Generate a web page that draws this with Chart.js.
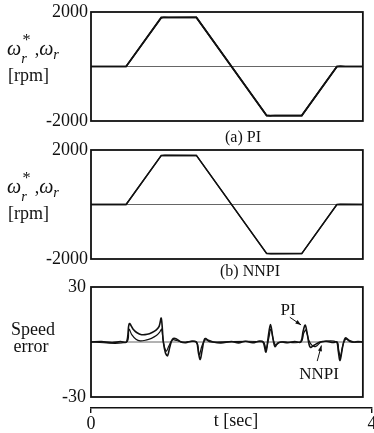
<!DOCTYPE html>
<html>
<head>
<meta charset="utf-8">
<script src="https://cdn.jsdelivr.net/npm/chart.js@4.4.1/dist/chart.umd.min.js"></script>
<style>
  body { margin: 0; background: #fff; }
  #wrap { position: relative; width: 374px; height: 433px; overflow: hidden; font-family: "Liberation Serif", "DejaVu Serif", serif; color: #111; }
  #wrap canvas { position: absolute; left: 0; top: 0; }
  .lbl { position: absolute; font-size: 18px; line-height: 1; white-space: nowrap; transform: translate(-50%, -50%); }
  .ylab { position: absolute; font-size: 18px; line-height: 1; white-space: nowrap; }
  .om { font-size: 20px; font-style: italic; }
  .ss { position: relative; display: inline-block; width: 0.5em; height: 0; }
  .ss .sp { position: absolute; left: 0.08em; bottom: 0.45em; font-size: 0.9em; }
  .ss .sb { position: absolute; left: 0; top: -0.3em; font-size: 0.8em; font-style: italic; }
  .sb2 { position: relative; top: 0.3em; font-size: 0.8em; font-style: italic; }
</style>
</head>
<body>
<div id="wrap">
  <canvas id="speedPI" width="374" height="433"></canvas>
  <canvas id="speedNN" width="374" height="433"></canvas>
  <canvas id="errChart" width="374" height="433"></canvas>
  <canvas id="timeAxis" width="374" height="433"></canvas>

  <div class="ylab" style="left:7px;top:38px"><span class="om">ω</span><span class="ss"><span class="sp">*</span><span class="sb">r</span></span> ,<span class="om">ω</span><span class="sb2">r</span></div>
  <div class="ylab" style="left:8px;top:66px">[rpm]</div>
  <div class="lbl" style="left:243px;top:137px;font-size:16px">(a) PI</div>

  <div class="ylab" style="left:7px;top:176px"><span class="om">ω</span><span class="ss"><span class="sp">*</span><span class="sb">r</span></span> ,<span class="om">ω</span><span class="sb2">r</span></div>
  <div class="ylab" style="left:8px;top:204px">[rpm]</div>
  <div class="lbl" style="left:250px;top:271px;font-size:16px">(b) NNPI</div>

  <div class="lbl" style="left:33px;top:329px">Speed</div>
  <div class="lbl" style="left:31px;top:346px">error</div>
  <div class="lbl" style="left:288px;top:309px;font-size:17px">PI</div>
  <div class="lbl" style="left:319px;top:373px;font-size:17px">NNPI</div>
  <div class="lbl" style="left:236px;top:420px">t [sec]</div>
</div>

<script>
// time base of all panels [sec]
const timeMax = 4;
const timeEnd = 3.87;

// speed command (trapezoid profile) [rpm]
const timeRef = [0, 0.5, 1.0, 1.5, 2.5, 3.0, 3.5, 3.87];
const speedRef = [0, 0, 1800, 1800, -1800, -1800, 0, 0];

// measured speed, PI controller [rpm]
const timePI = [0, 0.5, 1.0, 1.04, 1.1, 1.5, 2.5, 2.55, 2.62, 3.0, 3.5, 3.55, 3.62, 3.87];
const speedPI = [0, 0, 1787, 1807, 1799, 1800, -1795, -1809, -1798, -1800, -5, 10, 0, 0];

// measured speed, NNPI controller [rpm]
const timeNN = [0, 0.5, 1.0, 1.05, 1.5, 2.5, 2.56, 3.0, 3.5, 3.55, 3.87];
const speedNN = [0, 0, 1793, 1805, 1800, -1796, -1807, -1800, -4, 8, 0];

// speed error, PI [rpm]
const errTimePI = [0, 0.15, 0.3, 0.42, 0.505, 0.545, 0.6, 0.65, 0.72, 0.8, 0.87, 0.93, 0.97, 1.0, 1.03, 1.06, 1.09, 1.12, 1.16,
  1.21, 1.28, 1.35, 1.42, 1.5, 1.53, 1.555, 1.58, 1.62, 1.67, 1.74, 1.85, 2.0, 2.1, 2.2, 2.3, 2.4, 2.45, 2.49, 2.52, 2.555,
  2.59, 2.62, 2.66, 2.72, 2.8, 2.9, 2.985, 3.02, 3.05, 3.08, 3.12, 3.18, 3.26, 3.35, 3.45, 3.5, 3.52, 3.545, 3.58, 3.62,
  3.67, 3.74, 3.8, 3.87];
const errPI = [0, 0.2, -0.3, 0.2, 0, 10, 7, 5.2, 4.0, 4.2, 5.2, 6.6, 8.5, 13, 0, -6, -7.5, -3, 1.5,
  1.8, 0, -0.4, 0.3, 0, -6, -9.5, -5, 1.8, 1.0, 0, -0.5, 0.3, -0.5, 0.4, -0.4, 0.5, 0, -5.5, 2, 9.5,
  2, -2.5, -0.5, 0, -0.4, 0.3, 0, 6, 9.2, 4, -2.8, -1.6, 0, 0.4, -0.3, 0, -5, -10, -3, 2.2,
  1, 0, 0.3, 0];

// speed error, NNPI [rpm]
const errTimeNN = [0, 0.505, 0.54, 0.58, 0.64, 0.7, 0.78, 0.86, 0.93, 0.98, 1.005, 1.03, 1.07, 1.11, 1.16, 1.22, 1.3,
  1.5, 1.54, 1.58, 1.63, 1.7, 2.45, 2.49, 2.53, 2.56, 2.6, 2.63, 2.7, 2.985, 3.03, 3.06, 3.1, 3.15, 3.2, 3.28,
  3.5, 3.525, 3.55, 3.59, 3.63, 3.7, 3.87];
const errNN = [0, 0, 7, 4, 1.5, 0.6, 1.0, 2.0, 3.5, 5.5, 7, 0, -5, -2, 1.2, 0.8, 0,
  0, -7, -2, 1.2, 0, 0, -4, 2, 7, 0.5, -1.5, 0, 0, 5, 6.5, 1, -2, -2.4, 0,
  0, -4, -8, -1, 1.5, 0, 0];

// annotation arrows, in data units [t, error]
const arrowPI = [[2.83, 13.5], [2.99, 9.3]];
const arrowNN = [[3.22, -10.4], [3.28, -1.9]];

const ink = '#111';
const serif = 'Liberation Serif';

function toPoints(ts, vs) {
  return ts.map((t, i) => ({ x: t, y: vs[i] }));
}

// frame of each panel and its zero line
const panelFrame = {
  id: 'panelFrame',
  beforeDatasetsDraw(chart) {
    const { ctx, scales: { x, y } } = chart;
    const yz = y.getPixelForValue(0);
    ctx.save();
    ctx.strokeStyle = '#555';
    ctx.lineWidth = 0.9;
    ctx.beginPath();
    ctx.moveTo(x.getPixelForValue(0), yz);
    ctx.lineTo(x.getPixelForValue(timeEnd), yz);
    ctx.stroke();
    ctx.restore();
  },
  afterDatasetsDraw(chart) {
    const { ctx, scales: { x, y } } = chart;
    const x0 = x.getPixelForValue(0), x1 = x.getPixelForValue(timeEnd);
    const y0 = y.getPixelForValue(y.max), y1 = y.getPixelForValue(y.min);
    ctx.save();
    ctx.strokeStyle = ink;
    ctx.lineWidth = 1.8;
    ctx.strokeRect(x0, y0, x1 - x0, y1 - y0);
    ctx.restore();
  }
};

function drawArrow(chart, pts) {
  const { ctx, scales: { x, y } } = chart;
  const ax = x.getPixelForValue(pts[0][0]), ay = y.getPixelForValue(pts[0][1]);
  const bx = x.getPixelForValue(pts[1][0]), by = y.getPixelForValue(pts[1][1]);
  const ang = Math.atan2(by - ay, bx - ax);
  ctx.save();
  ctx.strokeStyle = ink;
  ctx.fillStyle = ink;
  ctx.lineWidth = 1;
  ctx.beginPath();
  ctx.moveTo(ax, ay);
  ctx.lineTo(bx, by);
  ctx.stroke();
  ctx.beginPath();
  ctx.moveTo(bx, by);
  ctx.lineTo(bx - 6 * Math.cos(ang - 0.35), by - 6 * Math.sin(ang - 0.35));
  ctx.lineTo(bx - 6 * Math.cos(ang + 0.35), by - 6 * Math.sin(ang + 0.35));
  ctx.closePath();
  ctx.fill();
  ctx.restore();
}

const arrows = {
  id: 'arrows',
  afterDatasetsDraw(chart) {
    drawArrow(chart, arrowPI);
    drawArrow(chart, arrowNN);
  }
};

function panel(id, datasets, yMax, top, bottom, tickPad, lineWidth, extra) {
  return new Chart(document.getElementById(id), {
    type: 'line',
    data: { datasets: datasets },
    options: {
      responsive: false,
      animation: false,
      events: [],
      layout: { padding: { left: 0, right: 2, top: top, bottom: 433 - bottom } },
      plugins: { legend: { display: false }, tooltip: { enabled: false } },
      elements: {
        point: { radius: 0 },
        line: { borderColor: ink, borderWidth: lineWidth, tension: 0, fill: false }
      },
      scales: {
        x: { type: 'linear', min: 0, max: timeMax, display: false },
        y: {
          min: -yMax,
          max: yMax,
          afterFit: s => { s.width = 91; s.paddingTop = 0; s.paddingBottom = 0; },
          afterBuildTicks: s => { s.ticks = [{ value: -yMax }, { value: yMax }]; },
          grid: { display: false, drawTicks: false },
          border: { display: false },
          ticks: { padding: tickPad, color: ink, font: { family: serif, size: 18 }, callback: v => String(v) }
        }
      }
    },
    plugins: [panelFrame].concat(extra || [])
  });
}

panel('speedPI', [
  { data: toPoints(timeRef, speedRef) },
  { data: toPoints(timePI, speedPI) }
], 2000, 12, 121, 3, 1.7);

panel('speedNN', [
  { data: toPoints(timeRef, speedRef) },
  { data: toPoints(timeNN, speedNN) }
], 2000, 150, 259, 3, 1.4);

panel('errChart', [
  { data: toPoints(errTimePI, errPI), tension: 0.35, borderWidth: 1.6 },
  { data: toPoints(errTimeNN, errNN), tension: 0.35, borderWidth: 1.2 }
], 30, 287, 397, 5, 1.3, [arrows]);

// separate time axis under the error panel
new Chart(document.getElementById('timeAxis'), {
  type: 'line',
  data: { datasets: [] },
  options: {
    responsive: false,
    animation: false,
    events: [],
    layout: { padding: { left: 91, right: 2, top: 398, bottom: 0 } },
    plugins: { legend: { display: false }, tooltip: { enabled: false } },
    scales: {
      x: {
        type: 'linear',
        min: 0,
        max: timeMax,
        position: 'bottom',
        afterFit: s => { s.height = 25; s.paddingLeft = 0; s.paddingRight = 0; },
        afterBuildTicks: s => { s.ticks = [{ value: 0 }, { value: timeMax }]; },
        grid: { drawOnChartArea: false, drawTicks: true, tickLength: 5, color: ink, lineWidth: 1.4 },
        border: { display: true, color: ink, width: 1.6 },
        ticks: { padding: 0, maxRotation: 0, color: ink, font: { family: serif, size: 18 } }
      },
      y: { display: false }
    }
  }
});
</script>
</body>
</html>
